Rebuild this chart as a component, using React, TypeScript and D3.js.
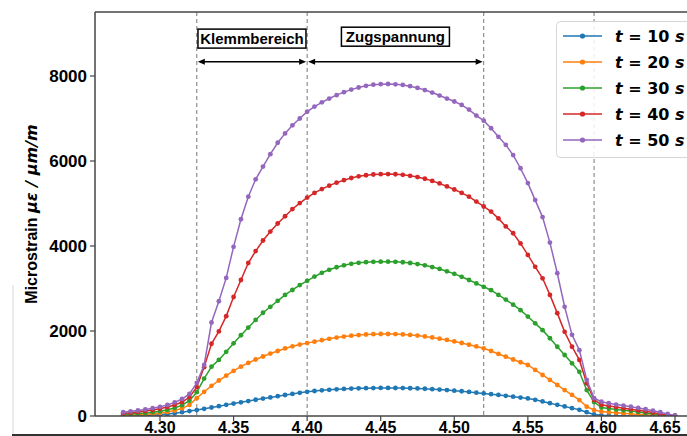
import React from 'react';
import * as d3 from 'd3';

// sample positions along the specimen (m)
const positions = [
  4.275, 4.28, 4.285, 4.29, 4.295, 4.30, 4.305, 4.31, 4.315, 4.32, 4.325,
  4.33, 4.335, 4.34, 4.345, 4.35, 4.355, 4.36, 4.365, 4.37, 4.375, 4.38, 4.385, 4.39, 4.395, 4.40,
  4.405, 4.41, 4.415, 4.42, 4.425, 4.43, 4.435, 4.44, 4.445, 4.45, 4.455, 4.46, 4.465, 4.47, 4.475,
  4.48, 4.485, 4.49, 4.495, 4.50, 4.505, 4.51, 4.515, 4.52,
  4.525, 4.53, 4.535, 4.54, 4.545, 4.55, 4.555, 4.56, 4.565, 4.57, 4.575, 4.58, 4.585, 4.59, 4.595, 4.60,
  4.605, 4.61, 4.615, 4.62, 4.625, 4.63, 4.635, 4.64, 4.645, 4.65
];

const strainT10 = [
  0, 0, 3, 8, 15, 28, 45, 65, 90, 115, 140,
  170, 200, 232, 262, 292, 322, 352, 382, 410, 438, 466, 494, 520, 545, 568,
  588, 604, 617, 628, 637, 645, 651, 655, 658, 660, 660, 659, 657, 653, 648,
  641, 632, 622, 610, 597, 582, 566, 549, 532,
  514, 495, 475, 454, 434, 413, 380, 342, 302, 262, 225, 185, 145, 90, 35, 15,
  6, 2, 0, 0, 0, 0, 0, 0, 0, 0
];
const strainT20 = [
  15, 20, 28, 38, 52, 70, 95, 130, 180, 260, 420,
  570, 710, 835, 950, 1060, 1160, 1250, 1330, 1400, 1470, 1530, 1590, 1640, 1680, 1715,
  1750, 1785, 1815, 1845, 1870, 1890, 1905, 1918, 1926, 1930, 1930, 1927, 1920, 1908, 1892,
  1872, 1848, 1820, 1790, 1755, 1718, 1678, 1636, 1592,
  1530, 1460, 1395, 1330, 1265, 1200, 1085, 965, 850, 730, 610, 495, 375, 220, 140, 105,
  90, 75, 62, 50, 38, 27, 17, 8, 3, 0
];
const strainT30 = [
  35, 45, 58, 72, 90, 112, 145, 190, 255, 360, 560,
  880, 1160, 1320, 1510, 1710, 1900, 2080, 2260, 2430, 2570, 2710, 2850, 2965, 3080, 3180,
  3280, 3370, 3440, 3500, 3545, 3580, 3605, 3620, 3628, 3632, 3632, 3628, 3618, 3600, 3575,
  3545, 3505, 3460, 3405, 3345, 3275, 3200, 3120, 3040,
  2960, 2850, 2740, 2620, 2490, 2340, 2180, 2020, 1830, 1630, 1435, 1240, 1040, 610, 330, 200,
  175, 155, 135, 115, 95, 72, 50, 30, 12, 2
];
const strainT40 = [
  60, 75, 95, 115, 140, 170, 210, 260, 330, 440, 680,
  1150, 1700, 1990, 2350, 2800, 3200, 3600, 3880, 4130, 4340, 4530, 4700, 4870, 5010, 5140,
  5250, 5340, 5420, 5490, 5550, 5600, 5640, 5665, 5682, 5690, 5692, 5688, 5675, 5652, 5622,
  5582, 5532, 5472, 5402, 5330, 5250, 5160, 5045, 4930,
  4810, 4650, 4460, 4300, 4060, 3790, 3510, 3240, 2850, 2420, 1980, 1630, 1320, 770, 380, 265,
  235, 210, 185, 160, 135, 110, 80, 50, 25, 5
];
const strainT50 = [
  90, 110, 130, 155, 185, 215, 260, 320, 400, 520, 780,
  1200, 2200, 2700, 3250, 3980, 4630, 5160, 5570, 5870, 6160, 6430, 6650, 6840, 7000, 7160,
  7280, 7380, 7470, 7550, 7620, 7680, 7730, 7770, 7795, 7808, 7812, 7805, 7790, 7760, 7720,
  7670, 7610, 7540, 7470, 7400, 7320, 7210, 7070, 6950,
  6770, 6570, 6380, 6140, 5830, 5480, 5080, 4680, 4080, 3360, 2570, 1910, 1550, 850, 420, 335,
  300, 270, 245, 220, 190, 160, 125, 90, 50, 15
];

const seriesValues = [strainT10, strainT20, strainT30, strainT40, strainT50];
const seriesTimes = ['10', '20', '30', '40', '50'];
const seriesColors = ['#1f77b4', '#ff7f0e', '#2ca02c', '#d62728', '#9467bd'];

const xTicks = [4.30, 4.35, 4.40, 4.45, 4.50, 4.55, 4.60, 4.65];
const yTicks = [0, 2000, 4000, 6000, 8000];
const zoneLines = [4.325, 4.40, 4.52, 4.595];
const zones = [
  { label: 'Klemmbereich', from: 4.325, to: 4.40, textY: 8880 },
  { label: 'Zugspannung', from: 4.40, to: 4.52, textY: 8925 }
];
const arrowY = 8335;

const W = 687, H = 436;
const left = 95, top = 12, bottom = 416;
const sans = '"Liberation Sans", Arial, sans-serif';
const dejavu = '"DejaVu Sans", sans-serif';

export default function App() {
  const x = d3.scaleLinear().domain([4.30, 4.65]).range([160, 675]);
  const y = d3.scaleLinear().domain([0, 8000]).range([bottom, 76]);
  const line = d3.line<number>().x((d, i) => x(positions[i])).y(d => y(d));

  const arrowHead = (px: number, py: number, dir: number) =>
    `M${px},${py} L${px - dir * 7},${py - 3} L${px - dir * 7},${py + 3} Z`;

  return (
    <svg width={W} height={H} style={{ position: 'absolute', left: 0, top: 0, background: '#fff' }}>
      <rect x={0} y={0} width={W} height={H} fill="#fff" />
      <defs>
        <clipPath id="plot">
          <rect x={left} y={top} width={W - left} height={bottom - top} />
        </clipPath>
      </defs>

      {/* zone separators */}
      {zoneLines.map(v => (
        <line key={v} x1={x(v)} x2={x(v)} y1={top} y2={bottom}
          stroke="#777" strokeWidth={1} strokeDasharray="4,3" />
      ))}

      {/* series */}
      <g clipPath="url(#plot)">
        {seriesValues.map((vals, s) => (
          <g key={s}>
            <path d={line(vals) || ''} fill="none" stroke={seriesColors[s]} strokeWidth={1.5} />
            {vals.map((v, i) => (
              <circle key={i} cx={x(positions[i])} cy={y(v)} r={2.4} fill={seriesColors[s]} />
            ))}
          </g>
        ))}
      </g>

      {/* zone annotations */}
      {zones.map(z => {
        const cx = (x(z.from) + x(z.to)) / 2;
        const cy = y(z.textY);
        const ay = y(arrowY);
        const x1 = x(z.from) + 1, x2 = x(z.to) - 1;
        return (
          <g key={z.label}>
            <rect x={cx - 54} y={cy - 9.5} width={108} height={19} fill="#fff" stroke="#000" strokeWidth={1.5} />
            <text x={cx} y={cy + 5.3} textAnchor="middle" fontFamily={sans} fontWeight="bold" fontSize={15}>
              {z.label}
            </text>
            <line x1={x1 + 4} x2={x2 - 4} y1={ay} y2={ay} stroke="#000" strokeWidth={1.6} />
            <path d={arrowHead(x1, ay, -1)} fill="#000" />
            <path d={arrowHead(x2, ay, 1)} fill="#000" />
          </g>
        );
      })}

      {/* spines */}
      <line x1={left} x2={W} y1={top} y2={top} stroke="#444" strokeWidth={1.5} />
      <line x1={left} x2={W} y1={bottom} y2={bottom} stroke="#444" strokeWidth={1.5} />
      <line x1={left} x2={left} y1={top} y2={bottom} stroke="#444" strokeWidth={1.5} />

      {/* y axis */}
      {yTicks.map(t => (
        <g key={t}>
          <line x1={left - 5} x2={left} y1={y(t)} y2={y(t)} stroke="#444" strokeWidth={1.2} />
          <text x={left - 8} y={y(t) + 6} textAnchor="end" fontFamily={sans} fontWeight="bold" fontSize={17}>
            {t}
          </text>
        </g>
      ))}
      <text transform={`translate(37,214) rotate(-90)`} textAnchor="middle" fontWeight="bold" fontSize={16}>
        <tspan fontFamily={sans}>Microstrain </tspan>
        <tspan fontFamily={dejavu} fontStyle="italic">με / μm/m</tspan>
      </text>

      {/* x axis */}
      {xTicks.map(t => (
        <g key={t}>
          <line x1={x(t)} x2={x(t)} y1={bottom} y2={bottom + 5} stroke="#444" strokeWidth={1.2} />
          <text x={Math.min(x(t), 665)} y={433} textAnchor="middle" fontFamily={sans} fontWeight="bold" fontSize={16}>
            {t.toFixed(2)}
          </text>
        </g>
      ))}

      {/* legend */}
      <g>
        <rect x={556.5} y={21.5} width={150} height={136} rx={4} fill="#fff" fillOpacity={0.85} stroke="#d6d6d6" />
        {seriesTimes.map((t, i) => {
          const ly = 36 + i * 26;
          return (
            <g key={t}>
              <line x1={563} x2={602} y1={ly} y2={ly} stroke={seriesColors[i]} strokeWidth={1.5} />
              <circle cx={582.5} cy={ly} r={2.6} fill={seriesColors[i]} />
              <text x={615} y={ly + 6} fontFamily={dejavu} fontWeight="bold" fontSize={16}>
                <tspan fontStyle="italic">t</tspan>
                <tspan> = {t} </tspan>
                <tspan fontStyle="italic">s</tspan>
              </text>
            </g>
          );
        })}
      </g>

      {/* page edges of the photographed figure */}
      <line x1={13} x2={13} y1={285} y2={H} stroke="#d8d8d8" strokeWidth={1} />
      <rect x={12} y={434} width={W - 12} height={2} fill="#333" />
    </svg>
  );
}
